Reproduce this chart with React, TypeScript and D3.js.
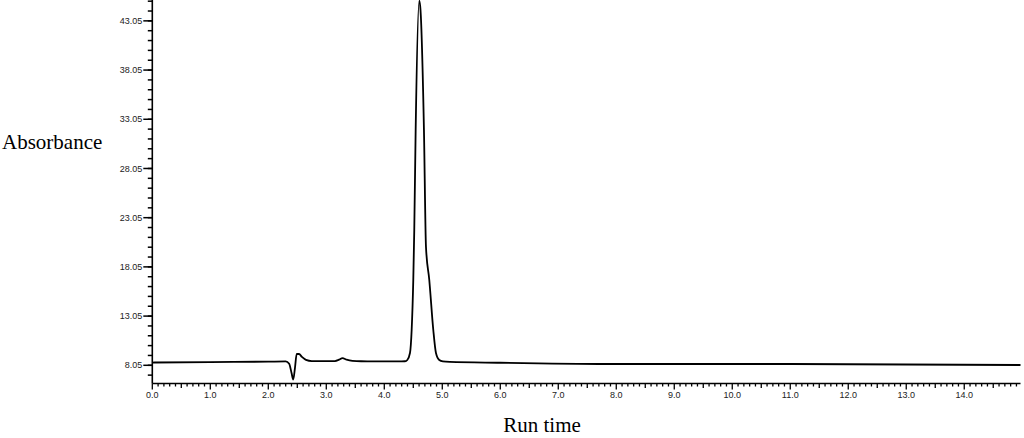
import React, { useRef, useEffect } from "react";
import * as d3 from "d3";

// run time (min) and absorbance
const runTimes = [
  0.0, 1.0, 2.0, 2.3, 2.36, 2.4, 2.43, 2.46, 2.49, 2.53, 2.58, 2.65, 2.75,
  3.15, 3.22, 3.28, 3.35, 3.45, 3.6, 4.3, 4.357, 4.397, 4.443, 4.472, 4.5,
  4.517, 4.541, 4.603, 4.624, 4.684, 4.719, 4.776, 4.845, 4.891, 4.948, 5.01,
  5.13, 6.0, 8.0, 11.0, 14.97,
];
const absorbance = [
  8.33, 8.38, 8.42, 8.44, 8.2, 7.3, 6.6, 7.8, 9.2, 9.2, 8.9, 8.6, 8.48,
  8.48, 8.62, 8.78, 8.62, 8.5, 8.46, 8.45, 8.46, 8.59, 9.3, 11.64, 16.72,
  21.8, 31.96, 45.1, 44.2, 31.96, 20.07, 16.72, 11.64, 9.3, 8.59, 8.44,
  8.39, 8.31, 8.18, 8.18, 8.08,
];

const yTickValues = [8.05, 13.05, 18.05, 23.05, 28.05, 33.05, 38.05, 43.05];
const xTickValues = d3.range(0, 15).map((d) => d);

export default function App() {
  const svgRef = useRef<SVGSVGElement | null>(null);

  useEffect(() => {
    const svg = d3.select(svgRef.current);
    svg.selectAll("*").remove();

    const width = 1024;
    const height = 438;
    const left = 152.3;
    const right = 1020.5;
    const axisY = 383.5;

    const x = d3.scaleLinear().domain([0, 14.97]).range([left, right]);
    const y = d3.scaleLinear().domain([6.2, 45.17]).range([axisY, 0]);

    svg.attr("width", width).attr("height", height);

    const data = runTimes.map((t, i) => ({ t, v: absorbance[i] }));

    // y axis
    const yAxis = svg.append("g");
    yAxis
      .append("line")
      .attr("x1", left)
      .attr("x2", left)
      .attr("y1", 0)
      .attr("y2", axisY)
      .attr("stroke", "#000")
      .attr("stroke-width", 1.6);

    const yMinor = d3.range(7.05, 45.1, 1);
    yAxis
      .selectAll(".yminor")
      .data(yMinor)
      .join("line")
      .attr("x1", left - 4.5)
      .attr("x2", left)
      .attr("y1", (d) => y(d))
      .attr("y2", (d) => y(d))
      .attr("stroke", "#000")
      .attr("stroke-width", 1.5);

    yAxis
      .selectAll(".ymajor")
      .data(yTickValues)
      .join("line")
      .attr("x1", left - 9)
      .attr("x2", left)
      .attr("y1", (d) => y(d))
      .attr("y2", (d) => y(d))
      .attr("stroke", "#000")
      .attr("stroke-width", 1.5);

    yAxis
      .selectAll(".ylabel")
      .data(yTickValues)
      .join("text")
      .attr("x", left - 10)
      .attr("y", (d) => y(d))
      .attr("dy", "0.35em")
      .attr("text-anchor", "end")
      .attr("font-family", "Arial, 'Liberation Sans', sans-serif")
      .attr("font-size", 9)
      .attr("fill", "#222")
      .text((d) => d.toFixed(2));

    // x axis
    const xAxis = svg.append("g");
    xAxis
      .append("line")
      .attr("x1", left)
      .attr("x2", right)
      .attr("y1", axisY)
      .attr("y2", axisY)
      .attr("stroke", "#000")
      .attr("stroke-width", 1.6);

    const xMinor = d3.range(0, 149.7).map((i) => i / 10);
    xAxis
      .selectAll(".xminor")
      .data(xMinor)
      .join("line")
      .attr("x1", (d) => x(d))
      .attr("x2", (d) => x(d))
      .attr("y1", axisY)
      .attr("y2", (d) => {
        const r = Math.round(d * 10) % 10;
        return axisY + (r === 0 ? 6 : r === 5 ? 4.5 : 3);
      })
      .attr("stroke", "#000")
      .attr("stroke-width", 1.3);

    xAxis
      .selectAll(".xlabel")
      .data(xTickValues)
      .join("text")
      .attr("x", (d) => x(d))
      .attr("y", 398)
      .attr("text-anchor", "middle")
      .attr("font-family", "Arial, 'Liberation Sans', sans-serif")
      .attr("font-size", 9)
      .attr("fill", "#222")
      .text((d) => d.toFixed(1));

    // trace
    const line = d3
      .line<{ t: number; v: number }>()
      .x((d) => x(d.t))
      .y((d) => y(d.v))
      .curve(d3.curveMonotoneX);

    svg
      .append("path")
      .datum(data)
      .attr("d", line)
      .attr("fill", "none")
      .attr("stroke", "#000")
      .attr("stroke-width", 1.8)
      .attr("stroke-linejoin", "round");

    // axis titles
    svg
      .append("text")
      .attr("x", 2)
      .attr("y", 149)
      .attr("font-family", "'Times New Roman', 'Liberation Serif', serif")
      .attr("font-size", 21)
      .attr("fill", "#000")
      .text("Absorbance");

    svg
      .append("text")
      .attr("x", 542)
      .attr("y", 432)
      .attr("text-anchor", "middle")
      .attr("font-family", "'Times New Roman', 'Liberation Serif', serif")
      .attr("font-size", 21)
      .attr("fill", "#000")
      .text("Run time");

    return () => {
      svg.selectAll("*").remove();
    };
  }, []);

  return (
    <div style={{ position: "absolute", left: 0, top: 0 }}>
      <svg ref={svgRef} style={{ display: "block" }} />
    </div>
  );
}
